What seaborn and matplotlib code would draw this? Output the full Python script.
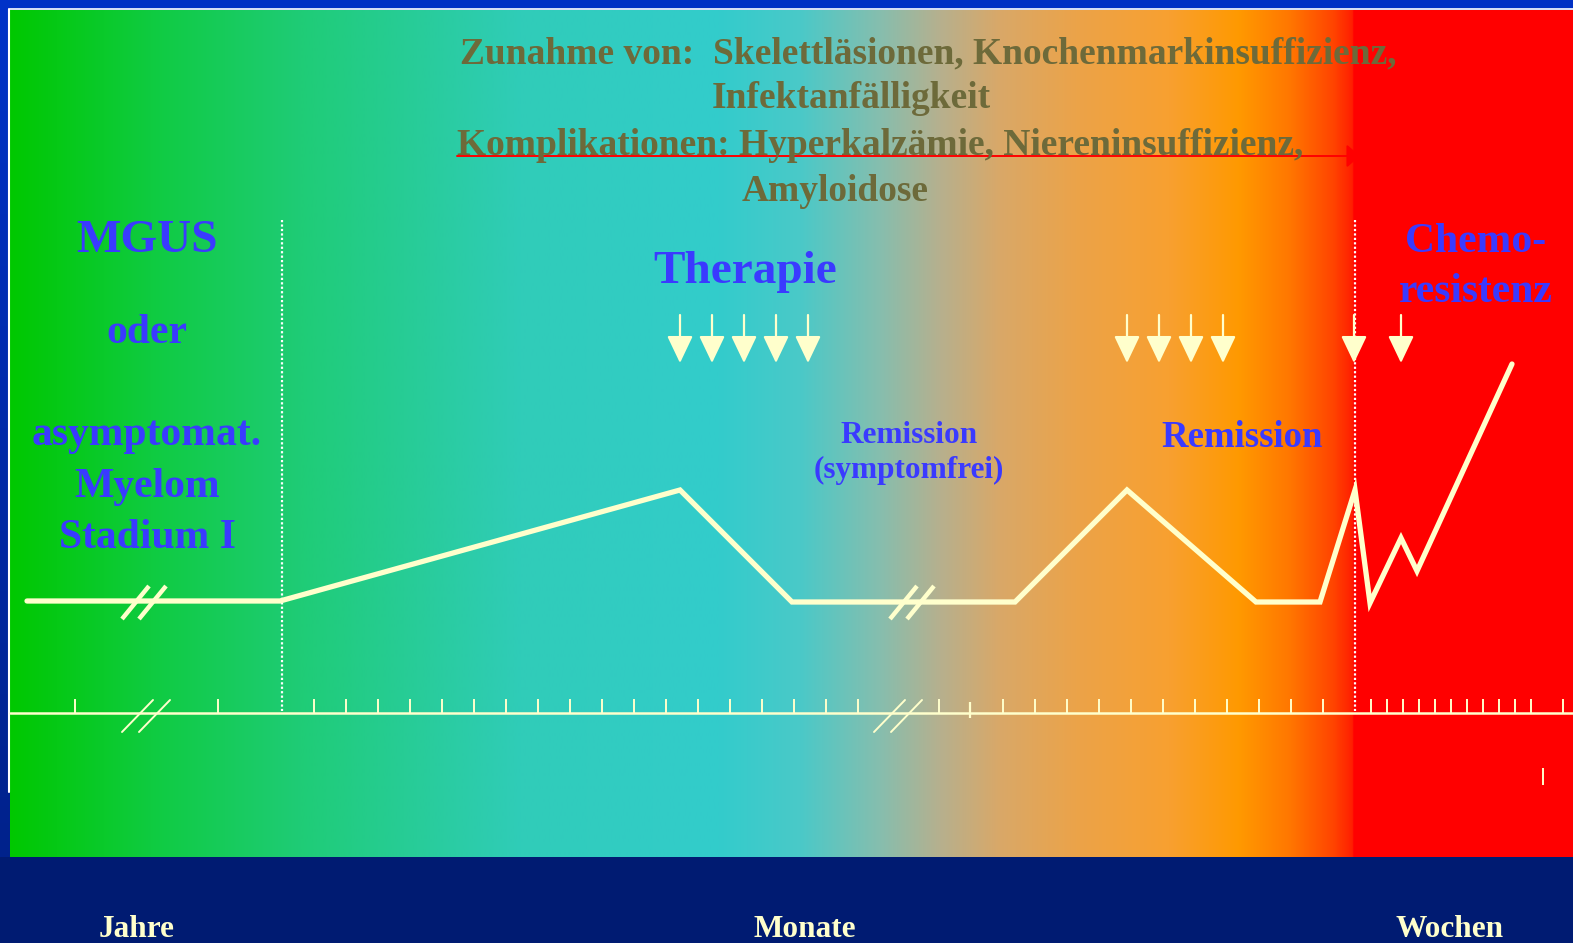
import numpy as np
import pandas as pd
import matplotlib
matplotlib.use("Agg")
import matplotlib.pyplot as plt
from matplotlib.colors import LinearSegmentedColormap
import seaborn as sns

# ---- data (pixel-space schematic, y grows downward) ----
curve_x = [27, 280, 680, 792, 1015, 1127, 1256, 1320, 1355, 1370, 1401, 1417, 1512]
curve_y = [601, 601, 490, 602, 602, 490, 602, 602, 490, 603, 538, 571, 364]

year_ticks = [75, 218]
month_ticks_a = [314, 346, 378, 410, 442, 474, 506, 538, 570, 602, 634, 666,
                 698, 730, 762, 794, 826, 858]
month_ticks_b = [939, 1003, 1035, 1067, 1099, 1131, 1163, 1195, 1227, 1259, 1291, 1323]
month_tall_tick = [970]
week_ticks = [1371, 1387, 1403, 1419, 1435, 1451, 1467, 1483, 1499, 1515, 1531, 1563]

therapy_arrows_1 = [680, 712, 744, 776, 808]
therapy_arrows_2 = [1127, 1159, 1191, 1223]
therapy_arrows_3 = [1354, 1401]

phase_lines = [282, 1355]
break_x_curve = [146, 914]
break_x_axis = [146, 898]

# background gradient stops (x position, colour)
grad_pos = [10, 150, 300, 520, 720, 800, 880, 940, 1000, 1080, 1170, 1240, 1290, 1334, 1353, 1354, 1573]
grad_col = ['#00c800', '#0fcb40', '#1fcc76', '#30ccb8', '#33cccc', '#4ac9c8', '#86beae',
            '#b6b08e', '#d9a868', '#eca348', '#f8a030', '#ff9900', '#ff7700', '#ff4400',
            '#ff1e00', '#ff0000', '#ff0000']

W, H = 1573, 943
cream = '#ffffcc'
olive = '#6d6a3a'
blue_txt = '#3a3aff'

sns.set_style("white")
plt.rcParams['font.family'] = ['Liberation Serif', 'DejaVu Serif']
plt.rcParams['font.weight'] = 'bold'

fig = plt.figure(figsize=(W / 100, H / 100), dpi=100)
ax = fig.add_axes([0, 0, 1, 1])

# frame colours
fig.patch.set_facecolor('#0030c4')
ax.add_patch(plt.Rectangle((0, 857), W, H - 857, color='#001b72', zorder=0))
left = np.linspace(0, 1, 100).reshape(-1, 1)
ax.imshow(left, extent=[0, 10, 857, 0], aspect='auto',
          cmap=LinearSegmentedColormap.from_list('l', ['#0032c8', '#00228c']), zorder=0)

# main gradient
stops = [(p - grad_pos[0]) / (grad_pos[-1] - grad_pos[0]) for p in grad_pos]
cmap = LinearSegmentedColormap.from_list('stage', list(zip(stops, grad_col)), N=2048)
ax.imshow(np.linspace(0, 1, 3000).reshape(1, -1), extent=[10, W, 857, 10],
          aspect='auto', cmap=cmap, interpolation='bilinear', zorder=1)
ax.plot([10, W], [9, 9], color='white', lw=1.2, zorder=2)
ax.plot([9, 9], [9, 792], color='white', lw=1.5, zorder=2)

# disease course line
df = pd.DataFrame({'x': curve_x, 'y': curve_y})
sns.lineplot(data=df, x='x', y='y', sort=False, color=cream, lw=3.8, ax=ax, zorder=5,
             solid_joinstyle='miter')
ax.set_xlim(0, W)
ax.set_ylim(H, 0)
ax.axis('off')

for bx in break_x_curve:
    for dx in (-15, 2):
        ax.plot([bx + dx - 9, bx + dx + 18], [619, 586], color=cream, lw=3.2, zorder=6,
                solid_capstyle='butt')

# time axis
ax.plot([10, W], [713, 713], color=cream, lw=1.8, zorder=4)
ax.vlines(year_ticks + month_ticks_a + month_ticks_b + week_ticks, 699, 713,
          color=cream, lw=1.4, zorder=4)
ax.vlines(month_tall_tick, 702, 718, color=cream, lw=1.6, zorder=4)
ax.vlines([1543], 768, 785, color=cream, lw=1.4, zorder=4)
for bx in break_x_axis:
    for dx in (-16, 1):
        ax.plot([bx + dx - 8, bx + dx + 23], [732, 700], color=cream, lw=1.4, zorder=4)

# phase separators
ax.vlines(phase_lines, 220, 711, color='white', lw=1.6, linestyles=(0, (1, 1)), zorder=4)

# therapy arrows
for xs in (therapy_arrows_1, therapy_arrows_2, therapy_arrows_3):
    for x in xs:
        ax.annotate('', xy=(x, 363), xytext=(x, 315),
                    arrowprops=dict(arrowstyle='-|>,head_length=1.05,head_width=0.5',
                                    mutation_scale=16, lw=1.6, color=cream,
                                    shrinkA=0, shrinkB=0), zorder=6)

# complications arrow
ax.annotate('', xy=(1360, 156), xytext=(457, 156),
            arrowprops=dict(arrowstyle='-|>,head_length=0.4,head_width=0.35',
                            mutation_scale=20, lw=1.4, color='#ff0000',
                            shrinkA=0, shrinkB=0), zorder=3)

# header texts
hdr = dict(color=olive, fontsize=27, ha='left', va='baseline', zorder=7)
ax.text(460, 63, 'Zunahme von:  Skelettläsionen, Knochenmarkinsuffizienz,', **hdr)
ax.text(712, 108, 'Infektanfälligkeit', **hdr)
ax.text(457, 155, 'Komplikationen: Hyperkalzämie, Niereninsuffizienz,', **hdr)
ax.text(742, 201, 'Amyloidose', **hdr)

# phase texts
ax.text(147, 252, 'MGUS', color=blue_txt, fontsize=34, ha='center', va='baseline', zorder=7)
ax.text(147, 343, 'oder', color=blue_txt, fontsize=30, ha='center', va='baseline', zorder=7)
ax.text(147, 445, 'asymptomat.', color=blue_txt, fontsize=30, ha='center', va='baseline', zorder=7)
ax.text(147, 497, 'Myelom', color=blue_txt, fontsize=30, ha='center', va='baseline', zorder=7)
ax.text(147, 548, 'Stadium I', color=blue_txt, fontsize=30, ha='center', va='baseline', zorder=7)

ax.text(745, 283, 'Therapie', color=blue_txt, fontsize=34, ha='center', va='baseline', zorder=7)
ax.text(909, 443, 'Remission', color=blue_txt, fontsize=22.5, ha='center', va='baseline', zorder=7)
ax.text(909, 478, '(symptomfrei)', color=blue_txt, fontsize=22.5, ha='center', va='baseline', zorder=7)
ax.text(1242, 447, 'Remission', color=blue_txt, fontsize=26.5, ha='center', va='baseline', zorder=7)
ax.text(1476, 252, 'Chemo-', color=blue_txt, fontsize=30, ha='center', va='baseline', zorder=7)
ax.text(1476, 302, 'resistenz', color=blue_txt, fontsize=30, ha='center', va='baseline', zorder=7)

# time scale labels
for lx, lab in [(137, 'Jahre'), (805, 'Monate'), (1450, 'Wochen')]:
    ax.text(lx, 937, lab, color=cream, fontsize=22.5, ha='center', va='baseline', zorder=7)

fig.savefig('out.png', dpi=100, facecolor=fig.get_facecolor())
